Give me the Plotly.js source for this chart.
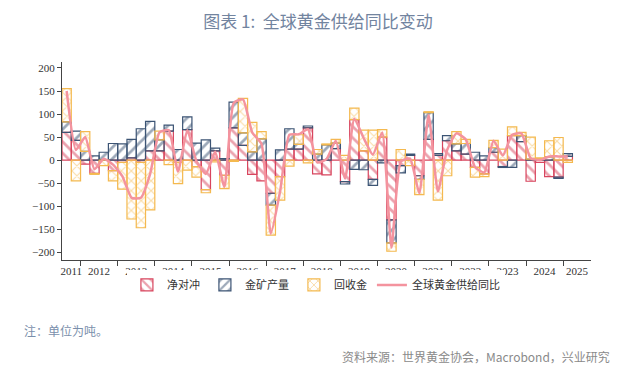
<!DOCTYPE html>
<html>
<head>
<meta charset="utf-8">
<script src="https://cdn.plot.ly/plotly-3.0.1.min.js"></script>
<style>html,body{margin:0;padding:0;background:#fff;}#chart{width:640px;height:369px;}</style>
</head>
<body>
<div id="chart"></div>
<script>
// Quarters 2011Q3 .. 2025Q1
const quarters = ["2011Q3","2011Q4",
"2012Q1","2012Q2","2012Q3","2012Q4",
"2013Q1","2013Q2","2013Q3","2013Q4",
"2014Q1","2014Q2","2014Q3","2014Q4",
"2015Q1","2015Q2","2015Q3","2015Q4",
"2016Q1","2016Q2","2016Q3","2016Q4",
"2017Q1","2017Q2","2017Q3","2017Q4",
"2018Q1","2018Q2","2018Q3","2018Q4",
"2019Q1","2019Q2","2019Q3","2019Q4",
"2020Q1","2020Q2","2020Q3","2020Q4",
"2021Q1","2021Q2","2021Q3","2021Q4",
"2022Q1","2022Q2","2022Q3","2022Q4",
"2023Q1","2023Q2","2023Q3","2023Q4",
"2024Q1","2024Q2","2024Q3","2024Q4",
"2025Q1"];

// 净对冲 (net hedging), tonnes YoY
const hedging = [60,43,
-9,-29,0,-23,
-5,5,-5,20,
20,63,-5,66,
-14,-64,20,-33,
70,32,-31,-45,
-72,-36,24,24,
70,-30,-32,25,
-47,88,20,-42,
50,-130,-12,10,
-34,45,10,42,
20,13,-16,-30,
17,-14,53,40,
-46,-5,-36,-37,
8];

// 金矿产量 (mine production)
const mine = [23,20,
19,9,17,36,
35,40,68,64,
24,13,23,28,
37,44,6,3,
56,27,18,46,
-26,22,44,10,
4,13,33,12,
-5,-20,-21,-13,
-6,-50,-16,3,
-8,58,4,11,
15,23,17,9,
10,-2,-16,13,
2,2,7,-3,
6];

// 回收金 (recycling)
const recycling = [72,-45,
43,-2,-12,-22,
-58,-128,-142,-108,
19,-10,-46,-22,
-23,-7,-4,-29,
-3,75,64,16,
-65,-51,-13,21,
-6,10,2,8,
10,25,45,65,
16,-18,23,-12,
-33,2,-87,-34,
27,9,-21,-6,
16,24,19,7,
48,3,35,49,
-5];

// 全球黄金供给同比 (total supply YoY)
const totalYoY = [150,22,
50,-20,3,-10,
-35,-82,-82,-30,
60,65,-25,65,
-3,-30,18,-58,
124,132,60,35,
-160,-68,55,56,
67,-5,2,42,
-40,90,48,12,
60,-190,-3,3,
-72,98,-68,22,
58,45,-15,-27,
42,10,55,58,
4,0,8,8,
8];

const yearLabels = ["2011","2012","2013","2014","2015","2016","2017","2018","2019","2020","2021","2022","2023","2024","2025"];
const yTicks = [-200,-150,-100,-50,0,50,100,150,200];

// quarter category -> numeric position (centre of quarter)
const xpos = quarters.map(q => {
  const y = parseInt(q.slice(0,4)), n = parseInt(q.slice(5));
  return y + (n-1)*0.25 + 0.125;
});
const xr = [2011.5, 2025.75];
const labelPos = yearLabels.map(s => {
  const y = parseInt(s);
  const a = Math.max(y, xr[0]), b = Math.min(y+1, xr[1]);
  return (a+b)/2;
});
const boundaryTicks = yearLabels.map(s => parseInt(s)).filter(v => v > xr[0] && v < xr[1]);

const RED = '#d8455e', NAVY = '#3c5474', ORANGE = '#f4b94f', PINK = '#f4939e';

function barTrace(name, vals, col, shape, size, sol) {
  return {
    type: 'bar', name: name, x: xpos, y: vals, width: 0.25,
    marker: {
      color: 'rgba(255,255,255,0)',
      line: {color: col, width: 1.2},
      pattern: {shape: shape, fgcolor: col, bgcolor: 'rgba(255,255,255,0)', size: size, solidity: sol, fillmode: 'overlay'}
    },
    hoverinfo: 'skip'
  };
}

const traces = [
  barTrace('净对冲', hedging, RED, '\\', 8, 0.35),
  barTrace('金矿产量', mine, NAVY, '/', 8, 0.35),
  barTrace('回收金', recycling, ORANGE, 'x', 7, 0.3),
  {type: 'scatter', mode: 'lines', name: '全球黄金供给同比', x: xpos, y: totalYoY, xaxis: 'x2', yaxis: 'y',
   line: {color: PINK, width: 2.5, shape: 'spline', smoothing: 0.5}, hoverinfo: 'skip'}
];

const tickFont = {family: 'Liberation Serif, Times New Roman, serif', size: 11, color: '#333'};

const layout = {
  width: 640, height: 369,
  margin: {l: 62, r: 49, t: 62, b: 109},
  paper_bgcolor: '#fff', plot_bgcolor: '#fff',
  barmode: 'relative', bargap: 0,
  showlegend: true,
  title: {text: '图表 1:  全球黄金供给同比变动', x: 0.497, xref: 'container', y: 0.94, yref: 'container', yanchor: 'middle',
          font: {family: 'Noto Sans CJK SC, sans-serif', size: 17, color: '#72849f'}},
  xaxis: {
    range: xr, showgrid: false, zeroline: false,
    showline: true, linecolor: '#444', linewidth: 1,
    tickmode: 'array', tickvals: boundaryTicks, ticks: 'outside', ticklen: 5, tickcolor: '#444', tickwidth: 1,
    showticklabels: false
  },
  xaxis2: {
    overlaying: 'x', anchor: 'y', side: 'bottom',
    range: xr, showgrid: false, zeroline: false, showline: false,
    tickmode: 'array', tickvals: labelPos, ticktext: yearLabels, ticks: '',
    ticklabelstandoff: 3,
    tickfont: tickFont
  },
  yaxis: {
    range: [-217, 213], showgrid: false, zeroline: false,
    showline: true, linecolor: '#444', linewidth: 1,
    tickmode: 'array', tickvals: yTicks, ticks: 'outside', ticklen: 4, tickcolor: '#444',
    tickfont: tickFont
  },
  legend: {orientation: 'h', x: 0.48, xanchor: 'center', y: -0.126, yanchor: 'middle',
           font: {family: 'Noto Sans CJK SC, sans-serif', size: 11, color: '#333'},
           itemwidth: 30, tracegroupgap: 0, traceorder: 'normal'},
  annotations: [
    {text: '注：单位为吨。', xref: 'paper', yref: 'paper', x: -0.0756, y: -0.354, xanchor: 'left', yanchor: 'middle',
     showarrow: false, font: {family: 'Noto Sans CJK SC, sans-serif', size: 12, color: '#7a8fab'}},
    {text: '资料来源：世界黄金协会，Macrobond，兴业研究', xref: 'paper', yref: 'paper', x: 1.0397, y: -0.485, xanchor: 'right', yanchor: 'middle',
     showarrow: false, font: {family: 'Noto Sans CJK SC, sans-serif', size: 12, color: '#8a8a8a'}}
  ]
};

Plotly.newPlot('chart', traces, layout, {displayModeBar: false, staticPlot: true});
</script>
</body>
</html>
